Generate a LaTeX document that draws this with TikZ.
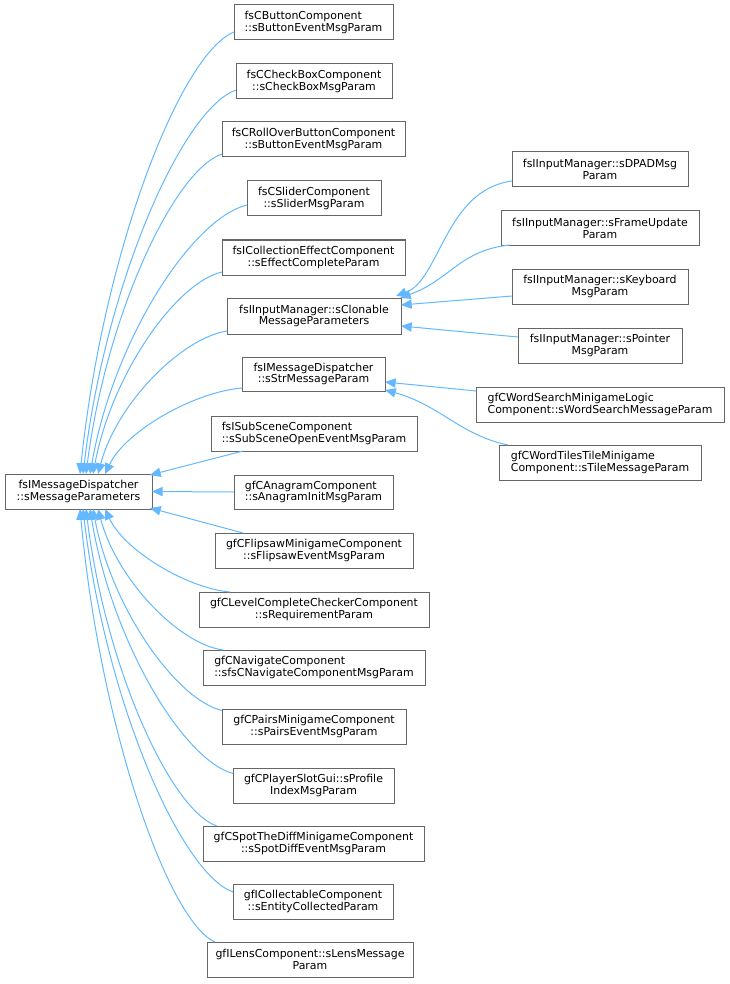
\documentclass[tikz,border=0pt]{standalone}
\usepackage{fontspec}
\setmainfont{DejaVu Sans}
\usetikzlibrary{arrows.meta,calc}
\definecolor{edgec}{HTML}{63B8FF}
\definecolor{boxc}{HTML}{666666}
\tikzset{
  box/.style={draw=boxc, line width=0.75pt, fill=white, inner sep=0pt, outer sep=0pt,
    font=\fontsize{8.2pt}{8.9pt}\selectfont, text=black},
  edge/.style={draw=edgec, line width=0.75pt, {Triangle[length=8pt,width=7pt,fill=edgec]}-},
}
\newcommand\bx[7]{\node[box, align=#7, minimum width={(#4-#2)*0.75pt}, minimum height={(#5-#3)*0.75pt}] (#1) at ({(#2+#4)/2},{(#3+#5)/2}) {#6};}
\begin{document}
\begin{tikzpicture}[x=0.75pt,y=-0.75pt]
\useasboundingbox (0,0) rectangle (729,984);
% boxes
\bx{root}{5}{474}{152}{509}{fsIMessageDispatcher\\::sMessageParameters}{center}
\bx{n1}{234}{5}{393}{40}{fsCButtonComponent\\::sButtonEventMsgParam}{left}
\bx{n2}{236}{64}{392}{99}{fsCCheckBoxComponent\\::sCheckBoxMsgParam}{center}
\bx{n3}{222}{122}{405}{157}{fsCRollOverButtonComponent\\::sButtonEventMsgParam}{center}
\bx{n4}{247}{181}{381}{216}{fsCSliderComponent\\::sSliderMsgParam}{center}
\bx{n5}{222}{240}{405}{275}{fsICollectionEffectComponent\\::sEffectCompleteParam}{center}
\bx{n6}{227}{298}{401}{334}{fsIInputManager::sClonable\\MessageParameters}{center}
\bx{n7}{242}{357}{385}{391}{fsIMessageDispatcher\\::sStrMessageParam}{center}
\bx{n8}{211}{416}{417}{451}{fsISubSceneComponent\\::sSubSceneOpenEventMsgParam}{left}
\bx{n9}{234}{475}{393}{509}{gfCAnagramComponent\\::sAnagramInitMsgParam}{left}
\bx{n10}{215}{533}{413}{568}{gfCFlipsawMinigameComponent\\::sFlipsawEventMsgParam}{center}
\bx{n11}{199}{592}{429}{627}{gfCLevelCompleteCheckerComponent\\::sRequirementParam}{center}
\bx{n12}{203}{650}{425}{685}{gfCNavigateComponent\\::sfsCNavigateComponentMsgParam}{left}
\bx{n13}{222}{709}{406}{744}{gfCPairsMinigameComponent\\::sPairsEventMsgParam}{center}
\bx{n14}{233}{768}{394}{803}{gfCPlayerSlotGui::sProfile\\IndexMsgParam}{center}
\bx{n15}{203}{826}{424}{861}{gfCSpotTheDiffMinigameComponent\\::sSpotDiffEventMsgParam}{center}
\bx{n16}{233}{884}{393}{919}{gfICollectableComponent\\::sEntityCollectedParam}{center}
\bx{n17}{207}{942}{413}{977}{gfILensComponent::sLensMessage\\Param}{center}
\bx{a}{512}{152}{688}{187}{fsIInputManager::sDPADMsg\\Param}{center}
\bx{b}{501}{211}{699}{245}{fsIInputManager::sFrameUpdate\\Param}{center}
\bx{c}{512}{269}{688}{304}{fsIInputManager::sKeyboard\\MsgParam}{center}
\bx{d}{518}{328}{682}{363}{fsIInputManager::sPointer\\MsgParam}{center}
\bx{e}{476}{387}{724}{422}{gfCWordSearchMinigameLogic\\Component::sWordSearchMessageParam}{left}
\bx{f}{499}{445}{701}{480}{gfCWordTilesTileMinigame\\Component::sTileMessageParam}{left}
% edges to root (top)
\draw[edge] ($(root.north)+(1.5,0)$) .. controls (103,253) and (180,54) .. ($(n1.west)+(0,9.5)$);
\draw[edge] ($(root.north)+(4.5,0)$) .. controls (106,282) and (182.5,109) .. ($(n2.west)+(0,8.5)$);
\draw[edge] ($(root.north)+(7.5,0)$) .. controls (106.4,314) and (174.4,170) .. ($(n3.west)+(0,14.5)$);
\draw[edge] ($(root.north)+(11.5,0)$) .. controls (113.5,339.5) and (192,218.5) .. ($(n4.west)+(0,6.5)$);
\draw[edge] ($(root.north)+(14.5,0)$) .. controls (112,373) and (177,282) .. ($(n5.west)+(0,14.5)$);
\draw[edge] ($(root.north)+(19.5,0)$) .. controls (117,402.5) and (182,338) .. ($(n6.west)+(0,15)$);
\draw[edge] ($(root.north)+(26.5,0)$) .. controls (125.5,431) and (194,392) .. ($(n7.west)+(0,14)$);
\draw[edge] ($(root.north east)+(-2,1)$) -- ($(n8.south west)+(32,0)$);
\draw[edge] (root.east) -- (n9.west);
\draw[edge] ($(root.south east)+(-2,-1)$) -- ($(n10.north west)+(28,0)$);
% edges to root (bottom)
\draw[edge] ($(root.south)+(26.5,0)$) .. controls (124,550) and (186,588) .. ($(n11.north west)+(31,0)$);
\draw[edge] ($(root.south)+(19.5,0)$) .. controls (117,580) and (179,644) .. ($(n12.north west)+(20,0)$);
\draw[edge] ($(root.south)+(14.5,0)$) .. controls (112,609.5) and (177,700) .. ($(n13.west)+(0,-16)$);
\draw[edge] ($(root.south)+(11.5,0)$) .. controls (111.5,641) and (183,760) .. ($(n14.west)+(0,-12)$);
\draw[edge] ($(root.south)+(7.5,0)$) .. controls (105.6,668) and (171,811) .. ($(n15.north west)+(14,0)$);
\draw[edge] ($(root.south)+(4.5,0)$) .. controls (105.5,700.5) and (180.5,873) .. ($(n16.west)+(0,-9.5)$);
\draw[edge] ($(root.south)+(1.5,0)$) .. controls (100,726) and (167.75,921) .. ($(n17.north west)+(8,0)$);
% edges to n6
\draw[edge] ($(n6.north east)+(-5,-2)$) .. controls (440,280) and (445,190) .. ($(a.west)+(0,11.5)$);
\draw[edge] ($(n6.north east)+(-1,0)$) .. controls (450,280) and (460,250) .. ($(b.south west)+(9,0)$);
\draw[edge] ($(n6.east)+(0,-11)$) -- ($(c.west)+(0,9.5)$);
\draw[edge] ($(n6.east)+(0,10)$) -- ($(d.west)+(0,-8.5)$);
% edges to n7
\draw[edge] ($(n7.east)+(0,8)$) -- ($(e.west)+(0,-13.5)$);
\draw[edge] ($(n7.south east)+(0,-1)$) .. controls (440,405) and (460,435) .. ($(f.north west)+(9,0)$);
\end{tikzpicture}
\end{document}
